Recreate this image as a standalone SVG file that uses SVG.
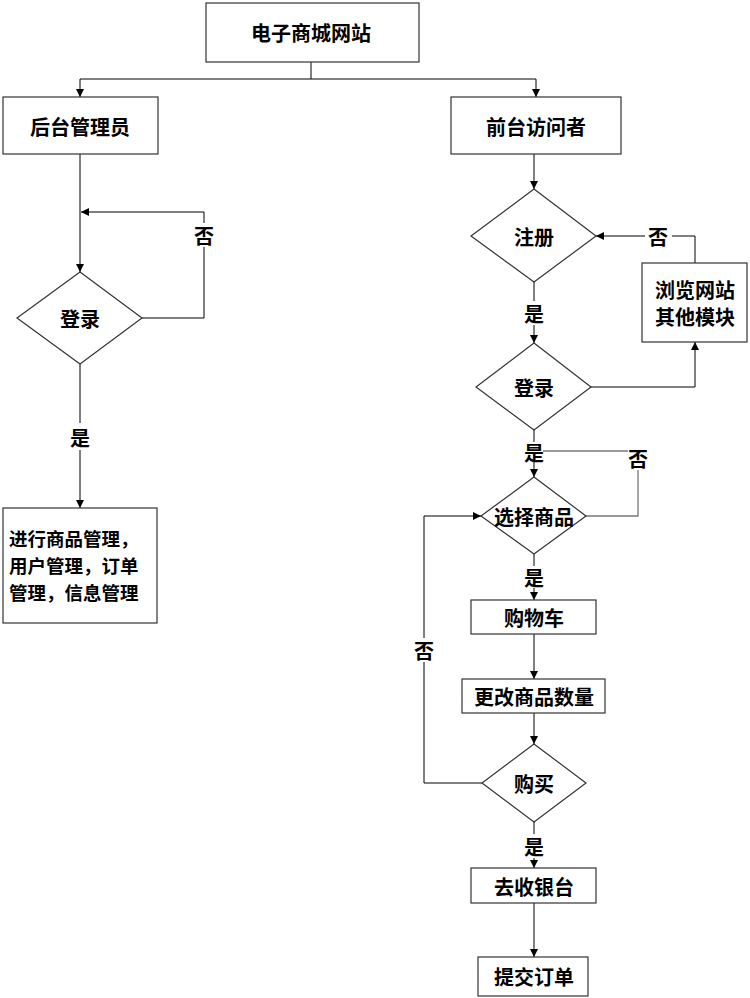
<svg xmlns="http://www.w3.org/2000/svg" width="750" height="998" viewBox="0 0 750 998">
<style>
.n{fill:#fff;stroke:#333;stroke-width:1.2}
.c{fill:none;stroke:#000;stroke-width:1}
.g{fill:none;stroke:#777;stroke-width:1.3}
text{font-family:"Noto Sans CJK SC","Liberation Sans",sans-serif;font-weight:bold;font-size:20px;fill:#000;dominant-baseline:central}
.m{text-anchor:middle}
.s{font-size:18.5px}
</style>
<defs>
<marker id="a" viewBox="0 0 10 10" refX="10" refY="5" markerWidth="8" markerHeight="9" markerUnits="userSpaceOnUse" orient="auto"><path d="M0,0L10,5L0,10z" fill="#000"/></marker>
</defs>
<rect width="750" height="998" fill="#fff"/>
<g id="connectors">
<path class="c" d="M311,62V79"/>
<path class="c" d="M311,79H80V97" marker-end="url(#a)"/>
<path class="c" d="M311,79H536V97" marker-end="url(#a)"/>
<path class="c" d="M80,154V272" marker-end="url(#a)"/>
<path class="c" d="M142,318H204V247"/>
<path class="c" d="M204,223V212H81" marker-end="url(#a)"/>
<path class="c" d="M80,364V423"/>
<path class="c" d="M80,450V508" marker-end="url(#a)"/>
<path class="c" d="M534,154V189" marker-end="url(#a)"/>
<path class="c" d="M534,282V301"/>
<path class="c" d="M534,325V343" marker-end="url(#a)"/>
<path class="c" d="M591,387H695V342" marker-end="url(#a)"/>
<path class="c" d="M695,263V236H672"/>
<path class="c" d="M645,236H596" marker-end="url(#a)"/>
<path class="c" d="M534,430V442"/>
<path class="g" d="M543,451H628"/>
<path class="g" d="M638,470V516H586"/>
<path class="c" d="M534,462V477" marker-end="url(#a)"/>
<path class="c" d="M534,554V566"/>
<path class="c" d="M534,588V600" marker-end="url(#a)"/>
<path class="c" d="M534,634V679" marker-end="url(#a)"/>
<path class="c" d="M534,713V744" marker-end="url(#a)"/>
<path class="c" d="M482,783H424V662"/>
<path class="c" d="M424,638V516H481" marker-end="url(#a)"/>
<path class="c" d="M534,822V834"/>
<path class="c" d="M534,858V868" marker-end="url(#a)"/>
<path class="c" d="M534,903V957" marker-end="url(#a)"/>
<text class="m" x="204" y="235">否</text>
<text class="m" x="80" y="437">是</text>
<text class="m" x="534" y="313">是</text>
<text class="m" x="658" y="236">否</text>
<text class="m" x="534" y="452">是</text>
<text class="m" x="638" y="458">否</text>
<text class="m" x="534" y="577">是</text>
<text class="m" x="424" y="650">否</text>
<text class="m" x="534" y="846">是</text>
</g>
<g id="n-site"><rect class="n" x="206" y="3" width="213" height="59"/><text class="m" x="311" y="32">电子商城网站</text></g>
<g id="n-admin"><rect class="n" x="3" y="97" width="155" height="57"/><text class="m" x="80" y="126">后台管理员</text></g>
<g id="n-visitor"><rect class="n" x="451" y="97" width="170" height="57"/><text class="m" x="536" y="126">前台访问者</text></g>
<g id="n-login-admin"><polygon class="n" points="80,272 142,318 80,364 17,318"/><text class="m" x="80" y="318">登录</text></g>
<g id="n-manage"><rect class="n" x="3" y="508" width="154" height="115"/><text class="s" x="9" y="538">进行商品管理，</text><text class="s" x="9" y="565">用户管理，订单</text><text class="s" x="9" y="592">管理，信息管理</text></g>
<g id="n-register"><polygon class="n" points="534,189 596,236 534,282 471,236"/><text class="m" x="534" y="236">注册</text></g>
<g id="n-browse"><rect class="n" x="642" y="263" width="105" height="79"/><text class="m" x="695" y="289">浏览网站</text><text class="m" x="695" y="316">其他模块</text></g>
<g id="n-login-visitor"><polygon class="n" points="534,343 591,387 534,430 476,387"/><text class="m" x="534" y="387">登录</text></g>
<g id="n-select"><polygon class="n" points="534,477 586,516 534,554 481,516"/><text class="m" x="534" y="516">选择商品</text></g>
<g id="n-cart"><rect class="n" x="471" y="600" width="125" height="34"/><text class="m" x="534" y="617">购物车</text></g>
<g id="n-qty"><rect class="n" x="462" y="679" width="143" height="34"/><text class="m" x="534" y="696">更改商品数量</text></g>
<g id="n-buy"><polygon class="n" points="534,744 586,783 534,822 482,783"/><text class="m" x="534" y="783">购买</text></g>
<g id="n-checkout"><rect class="n" x="471" y="868" width="125" height="35"/><text class="m" x="534" y="886">去收银台</text></g>
<g id="n-submit"><rect class="n" x="478" y="957" width="110" height="39"/><text class="m" x="534" y="976">提交订单</text></g>
</svg>
